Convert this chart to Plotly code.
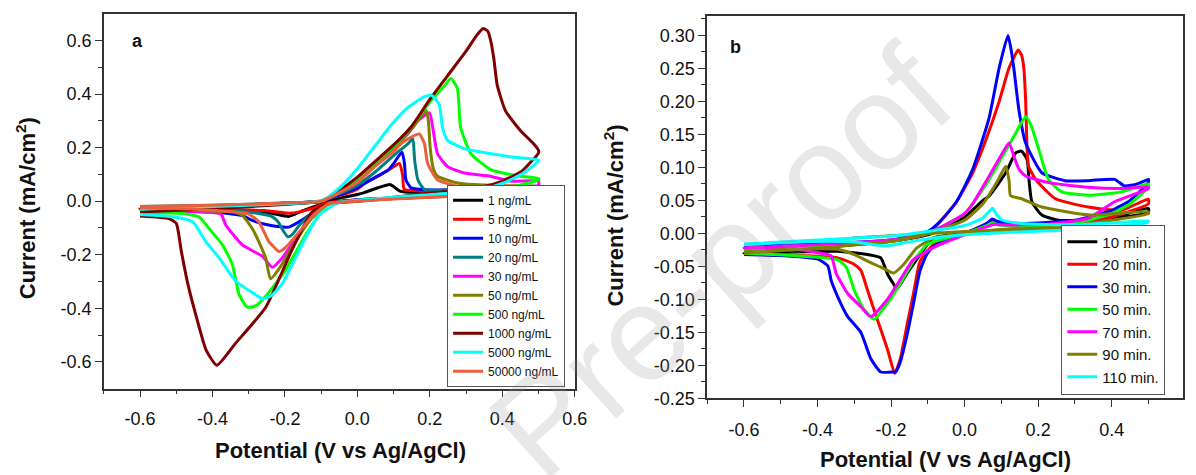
import plotly.graph_objects as go

# ---------------- Panel a : concentration series ----------------
A_LABELS = ["1 ng/mL", "5 ng/mL", "10 ng/mL", "20 ng/mL", "30 ng/mL", "50 ng/mL",
            "500 ng/mL", "1000 ng/mL", "5000 ng/mL", "50000 ng/mL"]

a1_x = [-0.6, -0.4, -0.2, -0.1, 0.0, 0.021, 0.057, 0.089, 0.1, 0.116, 0.139, 0.2, 0.3, 0.4, 0.5,
        0.5, 0.3, 0.1, 0.0, -0.08, -0.15, -0.19, -0.22, -0.26, -0.3, -0.4, -0.6]
a1_y = [-0.025, -0.018, -0.008, 0.0, 0.025, 0.033, 0.05, 0.062, 0.055, 0.038, 0.033, 0.035, 0.035, 0.035, 0.035,
        0.03, 0.02, 0.01, 0.003, -0.005, -0.035, -0.057, -0.05, -0.04, -0.035, -0.032, -0.03]

a5_x = [-0.6, -0.4, -0.2, -0.1, 0.0, 0.021, 0.057, 0.094, 0.116, 0.125, 0.129, 0.147, 0.2, 0.3, 0.4, 0.5,
        0.5, 0.4, 0.3, 0.1, 0.0, -0.08, -0.12, -0.16, -0.19, -0.22, -0.26, -0.3, -0.45, -0.6]
a5_y = [-0.03, -0.02, -0.01, 0.0, 0.045, 0.068, 0.093, 0.123, 0.141, 0.096, 0.044, 0.04, 0.037, 0.04, 0.045, 0.05,
        0.04, 0.03, 0.025, 0.012, 0.005, -0.005, -0.025, -0.04, -0.045, -0.04, -0.035, -0.033, -0.03, -0.03]

a10_x = [-0.6, -0.4, -0.2, -0.1, 0.0, 0.05, 0.084, 0.1, 0.123, 0.13, 0.134, 0.148, 0.2, 0.3, 0.4, 0.5,
         0.5, 0.3, 0.1, 0.0, -0.08, -0.13, -0.165, -0.19, -0.22, -0.242, -0.29, -0.317, -0.4, -0.6]
a10_y = [-0.025, -0.018, -0.008, 0.0, 0.05, 0.09, 0.115, 0.14, 0.184, 0.141, 0.08, 0.05, 0.042, 0.045, 0.05, 0.055,
         0.045, 0.03, 0.012, 0.005, -0.01, -0.05, -0.08, -0.097, -0.095, -0.09, -0.072, -0.054, -0.04, -0.035]

a20_x = [-0.6, -0.4, -0.2, -0.1, 0.0, 0.05, 0.1, 0.14, 0.153, 0.158, 0.167, 0.185, 0.3, 0.4, 0.5,
         0.5, 0.3, 0.1, 0.0, -0.08, -0.13, -0.16, -0.18, -0.192, -0.205, -0.22, -0.24, -0.3, -0.45, -0.6]
a20_y = [-0.02, -0.015, -0.007, 0.0, 0.06, 0.11, 0.17, 0.215, 0.233, 0.154, 0.08, 0.044, 0.045, 0.05, 0.05,
         0.04, 0.025, 0.01, 0.003, -0.01, -0.05, -0.09, -0.125, -0.133, -0.11, -0.075, -0.055, -0.04, -0.03, -0.025]

a30_x = [-0.6, -0.4, -0.2, -0.1, 0.0, 0.05, 0.1, 0.139, 0.167, 0.199, 0.208, 0.221, 0.249, 0.295, 0.367, 0.422, 0.5,
         0.5, 0.4, 0.3, 0.15, 0.0, -0.08, -0.12, -0.17, -0.208, -0.235, -0.262, -0.317, -0.363, -0.377, -0.45, -0.6]
a30_y = [-0.025, -0.018, -0.008, 0.0, 0.08, 0.14, 0.2, 0.251, 0.3, 0.33, 0.276, 0.178, 0.129, 0.105, 0.093, 0.075, 0.075,
         0.06, 0.04, 0.03, 0.015, 0.0, -0.01, -0.05, -0.14, -0.213, -0.247, -0.206, -0.164, -0.09, -0.048, -0.04, -0.035]

a50_x = [-0.6, -0.4, -0.2, -0.1, 0.0, 0.05, 0.1, 0.15, 0.19, 0.196, 0.201, 0.21, 0.221, 0.276, 0.322, 0.4, 0.5,
         0.5, 0.3, 0.1, 0.0, -0.08, -0.13, -0.18, -0.215, -0.24, -0.253, -0.272, -0.29, -0.317, -0.344, -0.45, -0.6]
a50_y = [-0.025, -0.018, -0.008, 0.0, 0.08, 0.14, 0.2, 0.27, 0.338, 0.3, 0.2, 0.12, 0.093, 0.068, 0.062, 0.058, 0.055,
         0.045, 0.03, 0.012, 0.003, -0.01, -0.07, -0.17, -0.25, -0.29, -0.213, -0.152, -0.103, -0.054, -0.04, -0.035, -0.03]

a500_x = [-0.6, -0.4, -0.2, -0.1, 0.0, 0.05, 0.1, 0.15, 0.2, 0.24, 0.258, 0.276, 0.285, 0.313, 0.368, 0.44, 0.5,
          0.5, 0.4, 0.3, 0.15, 0.0, -0.08, -0.14, -0.2, -0.25, -0.28, -0.304, -0.327, -0.345, -0.372, -0.409, -0.436, -0.49, -0.6]
a500_y = [-0.03, -0.02, -0.01, 0.0, 0.085, 0.145, 0.205, 0.28, 0.37, 0.43, 0.458, 0.422, 0.276, 0.178, 0.118, 0.095, 0.085,
          0.08, 0.045, 0.03, 0.015, 0.0, -0.01, -0.12, -0.26, -0.35, -0.39, -0.396, -0.347, -0.237, -0.164, -0.103, -0.06, -0.045, -0.045]

a1000_x = [-0.6, -0.4, -0.2, -0.1, -0.05, 0.0, 0.05, 0.1, 0.15, 0.2, 0.25, 0.3, 0.33, 0.347, 0.36, 0.368, 0.377, 0.386, 0.409, 0.45, 0.486, 0.5,
           0.5, 0.454, 0.4, 0.35, 0.3, 0.2, 0.1, 0.0, -0.08, -0.125, -0.18, -0.253, -0.336, -0.388, -0.418, -0.445, -0.468, -0.486, -0.5, -0.52, -0.6]
a1000_y = [-0.04, -0.028, -0.012, 0.0, 0.04, 0.09, 0.15, 0.21, 0.28, 0.38, 0.47, 0.56, 0.62, 0.645, 0.635, 0.6, 0.53, 0.434, 0.337, 0.264, 0.215, 0.19,
           0.18, 0.112, 0.075, 0.055, 0.045, 0.03, 0.015, 0.0, -0.01, -0.04, -0.18, -0.396, -0.53, -0.613, -0.555, -0.43, -0.31, -0.188, -0.083, -0.065, -0.055]

a5000_x = [-0.6, -0.4, -0.2, -0.12, -0.089, -0.043, 0.002, 0.048, 0.094, 0.139, 0.185, 0.205, 0.226, 0.235, 0.249, 0.295, 0.322, 0.422, 0.5,
           0.5, 0.459, 0.404, 0.349, 0.25, 0.1, 0.0, -0.053, -0.107, -0.144, -0.18, -0.208, -0.24, -0.262, -0.28, -0.336, -0.381, -0.418, -0.454, -0.5, -0.6]
a5000_y = [-0.03, -0.02, -0.01, -0.002, 0.008, 0.058, 0.125, 0.205, 0.285, 0.349, 0.39, 0.395, 0.361, 0.276, 0.227, 0.196, 0.188, 0.166, 0.154,
           0.15, 0.105, 0.068, 0.046, 0.03, 0.015, 0.003, -0.005, -0.054, -0.139, -0.237, -0.31, -0.355, -0.365, -0.35, -0.298, -0.213, -0.152, -0.078, -0.06, -0.05]

a50000_x = [-0.6, -0.4, -0.2, -0.1, 0.0, 0.048, 0.1, 0.121, 0.15, 0.171, 0.185, 0.194, 0.221, 0.276, 0.4, 0.5,
            0.5, 0.3, 0.1, 0.0, -0.08, -0.12, -0.17, -0.2, -0.217, -0.235, -0.244, -0.272, -0.3, -0.45, -0.6]
a50000_y = [-0.02, -0.015, -0.007, 0.0, 0.07, 0.129, 0.185, 0.215, 0.24, 0.251, 0.215, 0.141, 0.08, 0.056, 0.045, 0.04,
            0.03, 0.02, 0.008, 0.0, -0.01, -0.05, -0.13, -0.175, -0.188, -0.165, -0.152, -0.078, -0.048, -0.03, -0.025]

# ---------------- Panel b : time series ----------------
B_LABELS = ["10 min.", "20 min.", "30 min.", "50 min.", "70 min.", "90 min.", "110 min."]

b10_x = [-0.6, -0.4, -0.2, -0.1, -0.05, 0.0, 0.05, 0.067, 0.112, 0.139, 0.154, 0.17, 0.175, 0.183, 0.21, 0.255, 0.33, 0.408, 0.5,
         0.5, 0.3, 0.1, 0.0, -0.085, -0.121, -0.157, -0.184, -0.195, -0.21, -0.228, -0.264, -0.345, -0.6]
b10_y = [-0.03, -0.022, -0.012, -0.002, 0.01, 0.025, 0.05, 0.057, 0.092, 0.122, 0.125, 0.112, 0.082, 0.048, 0.028, 0.02, 0.02, 0.025, 0.038,
         0.032, 0.015, 0.005, 0.0, -0.007, -0.032, -0.061, -0.084, -0.075, -0.061, -0.037, -0.032, -0.027, -0.03]

b20_x = [-0.6, -0.4, -0.2, -0.1, -0.022, 0.022, 0.058, 0.094, 0.121, 0.146, 0.155, 0.161, 0.166, 0.170, 0.174, 0.193, 0.246, 0.336, 0.426, 0.5,
         0.5, 0.4, 0.3, 0.15, 0.09, 0.075, 0.06, 0.0, -0.085, -0.121, -0.139, -0.157, -0.175, -0.19, -0.21, -0.237, -0.264, -0.282, -0.3, -0.345, -0.48, -0.6]
b20_y = [-0.03, -0.02, -0.012, 0.0, 0.048, 0.092, 0.142, 0.2, 0.251, 0.278, 0.27, 0.251, 0.201, 0.127, 0.102, 0.082, 0.053, 0.04, 0.035, 0.052,
         0.045, 0.025, 0.015, 0.012, 0.015, 0.02, 0.015, 0.0, -0.017, -0.042, -0.091, -0.14, -0.19, -0.212, -0.175, -0.131, -0.086, -0.056, -0.047, -0.037, -0.033, -0.032]

b30_x = [-0.6, -0.4, -0.2, -0.1, -0.067, -0.022, 0.022, 0.067, 0.094, 0.118, 0.126, 0.134, 0.148, 0.166, 0.21, 0.273, 0.336, 0.408, 0.435, 0.47, 0.5,
         0.5, 0.45, 0.4, 0.3, 0.15, 0.09, 0.075, 0.06, 0.0, -0.05, -0.085, -0.103, -0.121, -0.139, -0.157, -0.175, -0.188, -0.2, -0.228, -0.255,
         -0.282, -0.318, -0.345, -0.363, -0.372, -0.399, -0.48, -0.6]
b30_y = [-0.02, -0.016, -0.01, 0.003, 0.018, 0.048, 0.097, 0.176, 0.251, 0.30, 0.28, 0.25, 0.186, 0.137, 0.092, 0.08, 0.08, 0.082, 0.072, 0.075, 0.082,
         0.078, 0.05, 0.035, 0.02, 0.015, 0.018, 0.022, 0.015, 0.0, -0.01, -0.02, -0.032, -0.056, -0.106, -0.155, -0.195, -0.21, -0.21, -0.21, -0.19,
         -0.15, -0.126, -0.096, -0.071, -0.049, -0.039, -0.034, -0.032]

b50_x = [-0.6, -0.4, -0.2, -0.1, 0.0, 0.067, 0.103, 0.139, 0.166, 0.18, 0.202, 0.228, 0.264, 0.336, 0.426, 0.5,
         0.5, 0.45, 0.4, 0.3, 0.15, 0.09, 0.075, 0.06, 0.0, -0.08, -0.103, -0.139, -0.175, -0.21, -0.246, -0.273, -0.3, -0.322, -0.345, -0.48, -0.6]
b50_y = [-0.025, -0.02, -0.012, 0.0, 0.03, 0.082, 0.117, 0.152, 0.177, 0.165, 0.127, 0.082, 0.063, 0.058, 0.063, 0.075,
         0.07, 0.045, 0.03, 0.015, 0.01, 0.013, 0.016, 0.012, 0.0, -0.012, -0.017, -0.042, -0.076, -0.106, -0.13, -0.116, -0.086, -0.051, -0.04, -0.033, -0.03]

b70_x = [-0.6, -0.4, -0.2, -0.1, 0.0, 0.022, 0.067, 0.103, 0.121, 0.134, 0.148, 0.166, 0.228, 0.336, 0.417, 0.5,
         0.5, 0.408, 0.336, 0.228, 0.1, 0.08, 0.06, 0.0, -0.08, -0.14, -0.175, -0.21, -0.255, -0.282, -0.318, -0.349, -0.363, -0.39, -0.48, -0.6]
b70_y = [-0.022, -0.017, -0.01, 0.0, 0.03, 0.045, 0.087, 0.122, 0.137, 0.117, 0.097, 0.087, 0.077, 0.07, 0.068, 0.07,
         0.068, 0.048, 0.023, 0.014, 0.013, 0.014, 0.01, -0.002, -0.02, -0.04, -0.07, -0.1, -0.126, -0.111, -0.091, -0.061, -0.034, -0.03, -0.022, -0.022]

b90_x = [-0.6, -0.4, -0.2, -0.1, 0.0, 0.05, 0.09, 0.112, 0.121, 0.125, 0.153, 0.21, 0.34, 0.5,
         0.5, 0.4, 0.3, 0.2, 0.1, 0.0, -0.085, -0.13, -0.166, -0.193, -0.228, -0.264, -0.3, -0.345, -0.48, -0.6,
         None, -0.305, 0.0, 0.27]
b90_y = [-0.03, -0.022, -0.012, 0.0, 0.02, 0.045, 0.08, 0.102, 0.08, 0.057, 0.053, 0.04, 0.028, 0.033,
         0.03, 0.02, 0.012, 0.008, 0.006, 0.0, -0.007, -0.022, -0.047, -0.06, -0.051, -0.042, -0.032, -0.024, -0.024, -0.028,
         None, -0.007, 0.003, 0.008]

b110_x = [-0.6, -0.4, -0.2, -0.1, 0.0, 0.049, 0.065, 0.076, 0.088, 0.103, 0.157, 0.291, 0.4, 0.5,
          0.5, 0.3, 0.1, 0.0, -0.072, -0.143, -0.215, -0.25, -0.3, -0.4, -0.6]
b110_y = [-0.016, -0.01, -0.004, 0.003, 0.012, 0.023, 0.032, 0.038, 0.028, 0.02, 0.015, 0.013, 0.016, 0.019,
          0.017, 0.006, 0.001, -0.002, -0.006, -0.012, -0.019, -0.017, -0.013, -0.012, -0.017]

# axis ticks
A_XTICKS = [-0.6, -0.4, -0.2, 0.0, 0.2, 0.4, 0.6]
A_XTICKTEXT = ["-0.6", "-0.4", "-0.2", "0.0", "0.2", "0.4", "0.6"]
A_YTICKS = [-0.6, -0.4, -0.2, 0.0, 0.2, 0.4, 0.6]
A_YTICKTEXT = ["-0.6", "-0.4", "-0.2", "0.0", "0.2", "0.4", "0.6"]
B_XTICKS = [-0.6, -0.4, -0.2, 0.0, 0.2, 0.4]
B_XTICKTEXT = ["-0.6", "-0.4", "-0.2", "0.0", "0.2", "0.4"]
B_YTICKS = [-0.25, -0.20, -0.15, -0.10, -0.05, 0.0, 0.05, 0.10, 0.15, 0.20, 0.25, 0.30]
B_YTICKTEXT = ["-0.25", "-0.20", "-0.15", "-0.10", "-0.05", "0.00", "0.05", "0.10", "0.15", "0.20", "0.25", "0.30"]

# ---------------- styles ----------------
A_COLORS = ["#000000", "#ff0000", "#0000ff", "#008080", "#ff00ff", "#808000",
            "#00ff00", "#800000", "#00ffff", "#e8603c"]
B_COLORS = ["#000000", "#ff0000", "#0000ff", "#00ff00", "#ff00ff", "#808000", "#00ffff"]

A_SERIES = [(a1_x, a1_y), (a5_x, a5_y), (a10_x, a10_y), (a20_x, a20_y), (a30_x, a30_y),
            (a50_x, a50_y), (a500_x, a500_y), (a1000_x, a1000_y), (a5000_x, a5000_y), (a50000_x, a50000_y)]
B_SERIES = [(b10_x, b10_y), (b20_x, b20_y), (b30_x, b30_y), (b50_x, b50_y),
            (b70_x, b70_y), (b90_x, b90_y), (b110_x, b110_y)]

W, H = 1196, 475
FONT = "Arial, 'Liberation Sans', sans-serif"

fig = go.Figure()
for (xs, ys), name, col in zip(A_SERIES, A_LABELS, A_COLORS):
    fig.add_trace(go.Scatter(x=xs, y=ys, name=name, mode="lines",
                             line=dict(color=col, width=3, shape="spline", smoothing=0.5),
                             xaxis="x", yaxis="y", legend="legend", connectgaps=False))
for (xs, ys), name, col in zip(B_SERIES, B_LABELS, B_COLORS):
    fig.add_trace(go.Scatter(x=xs, y=ys, name=name, mode="lines",
                             line=dict(color=col, width=3, shape="spline", smoothing=0.5),
                             xaxis="x2", yaxis="y2", legend="legend2", connectgaps=False))


def px(x):
    return x / W


def py(y):
    return 1 - y / H


axis_common = dict(showgrid=False, zeroline=False, showline=True, linecolor="#333333", linewidth=1.5,
                   mirror=True, ticks="outside", ticklen=7, tickwidth=1.2, tickcolor="#333333",
                   tickfont=dict(family=FONT, size=18, color="#111111"))

fig.update_layout(
    width=W, height=H, margin=dict(l=0, r=0, t=0, b=0),
    paper_bgcolor="white", plot_bgcolor="white",
    xaxis=dict(domain=[px(105), px(581)], range=[-0.7, 0.6], tickvals=A_XTICKS, ticktext=A_XTICKTEXT,
               minor=dict(tickvals=[-0.7, -0.5, -0.3, -0.1, 0.1, 0.3, 0.5], ticks="outside", ticklen=4,
                          tickcolor="#333333"),
               ticklabelstandoff=6, anchor="y", **axis_common),
    yaxis=dict(domain=[py(397), py(14)], range=[-0.7, 0.7], tickvals=A_YTICKS, ticktext=A_YTICKTEXT,
               minor=dict(tickvals=[-0.5, -0.3, -0.1, 0.1, 0.3, 0.5], ticks="outside", ticklen=4,
                          tickcolor="#333333"),
               anchor="x", **axis_common),
    xaxis2=dict(domain=[px(715), 1.0], range=[-0.7, 0.594], tickvals=B_XTICKS, ticktext=B_XTICKTEXT,
                minor=dict(tickvals=[-0.7, -0.5, -0.3, -0.1, 0.1, 0.3, 0.5], ticks="outside", ticklen=4,
                           tickcolor="#333333"),
                ticklabelstandoff=7, anchor="y2", **axis_common),
    yaxis2=dict(domain=[py(407), py(16)], range=[-0.25, 0.33], tickvals=B_YTICKS, ticktext=B_YTICKTEXT,
                minor=dict(tickvals=[-0.225, -0.175, -0.125, -0.075, -0.025, 0.025, 0.075, 0.125, 0.175, 0.225, 0.275, 0.325],
                           ticks="outside", ticklen=4, tickcolor="#333333"),
                anchor="x2", **axis_common),
    legend=dict(x=px(452), y=py(395), xanchor="left", yanchor="bottom", bgcolor="white",
                bordercolor="#555555", borderwidth=1, font=dict(family=FONT, size=12, color="#111111"),
                tracegroupgap=0, itemwidth=30),
    legend2=dict(x=px(1073), y=py(403), xanchor="left", yanchor="bottom", bgcolor="white",
                 bordercolor="#555555", borderwidth=1, font=dict(family=FONT, size=15, color="#111111"),
                 tracegroupgap=0, itemwidth=30),
    showlegend=True,
)

annots = [
    dict(text="Pre-proof", x=px(728), y=py(268), textangle=-42,
         font=dict(family=FONT, size=135, color="rgba(150,150,150,0.22)")),
    dict(text="<b>Current (mA/cm<sup>2</sup>)</b>", x=px(26), y=py(213), textangle=-90,
         font=dict(family=FONT, size=22, color="#111111")),
    dict(text="<b>Current (mA/cm<sup>2</sup>)</b>", x=px(621), y=py(220), textangle=-90,
         font=dict(family=FONT, size=22, color="#111111")),
    dict(text="<b>Potential (V vs Ag/AgCl)</b>", x=px(344), y=py(460),
         font=dict(family=FONT, size=22, color="#111111")),
    dict(text="<b>Potential (V vs Ag/AgCl)</b>", x=px(956), y=py(469),
         font=dict(family=FONT, size=22, color="#111111")),
    dict(text="<b>a</b>", x=px(139), y=py(42), font=dict(family=FONT, size=18, color="#111111")),
    dict(text="<b>b</b>", x=px(744), y=py(48), font=dict(family=FONT, size=18, color="#111111")),
]
for a in annots:
    a.update(xref="paper", yref="paper", showarrow=False, xanchor="center", yanchor="middle")
    fig.add_annotation(**a)

fig.write_html("out.html")
